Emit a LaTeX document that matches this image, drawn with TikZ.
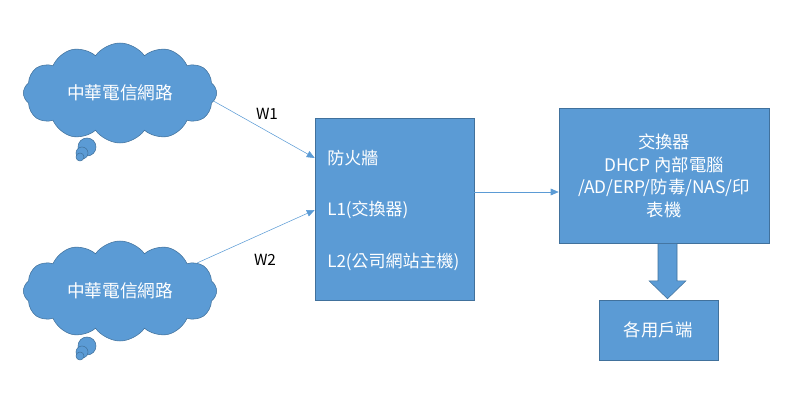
\documentclass[tikz,border=0pt]{standalone}
\usepackage{fontspec}
\setmainfont{Noto Sans CJK TC}
\usetikzlibrary{shapes,shapes.symbols,arrows.meta,calc}

\definecolor{officeblue}{HTML}{5B9BD5}
\definecolor{officeline}{HTML}{41719C}

\tikzset{
	netcloud/.style={shape=cloud,cloud puffs=12,cloud puff arc=110,aspect=2,
		draw=officeline,fill=officeblue,thin,text=white,
		minimum width=145pt,minimum height=75pt,inner sep=0pt,
		font=\fontsize{13.25}{15}\selectfont},
	bubble/.style={shape=circle,draw=officeline,fill=officeblue,thin,inner sep=0pt},
	unit/.style={shape=rectangle,draw=officeline,fill=officeblue,thin,text=white,
		inner sep=0pt,font=\fontsize{13}{17}\selectfont},
	tag/.style={font=\fontsize{12.75}{17}\selectfont,text=white,inner sep=0pt},
	wan/.style={font=\fontsize{11.5}{13}\selectfont,inner sep=0pt},
	link/.style={draw=officeblue,thin,-{Triangle[length=6pt,width=5pt]}},
}

\begin{document}
\begin{tikzpicture}[x=0.75pt,y=-0.75pt]
	\useasboundingbox (0,0) rectangle (811,410);
	% clouds
	\node[netcloud] (hinet1) at (120,93) {中華電信網路};
	\node[bubble,minimum size=13.5pt] (b1a) at (87,147) {};
	\node[bubble,minimum size=9pt] (b1b) at (82,153) {};
	\node[bubble,minimum size=6pt] (b1c) at (80,157) {};
	\node[netcloud] (hinet2) at (120,291) {中華電信網路};
	\node[bubble,minimum size=13.5pt] (b2a) at (87,346) {};
	\node[bubble,minimum size=9pt] (b2b) at (82,352) {};
	\node[bubble,minimum size=6pt] (b2c) at (80,356) {};
	% boxes
	\node[unit,minimum width=119.25pt,minimum height=136.5pt] (fw) at (394.5,209) {};
	\node[tag,anchor=west] (fwa) at (327,158) {防火牆};
	\node[tag,anchor=west] (fwb) at (327,210) {L1(交換器)};
	\node[tag,anchor=west] (fwc) at (327,262) {L2(公司網站主機)};
	\node[unit,minimum width=157.5pt,minimum height=101.25pt,align=center] (sw) at (664,176)
		{交換器\\DHCP 內部電腦\\/AD/ERP/防毒/NAS/印\\表機};
	\node[unit,minimum width=89.25pt,minimum height=45pt] (user) at (658.5,330) {各用戶端};
	% links
	\draw[link] (hinet1.-5) -- (fw.west |- fwa);
	\draw[link] (hinet2.20) -- (fw.west |- fwb);
	\node[wan] (w1) at (267,114) {W1};
	\node[wan] (w2) at (265,260) {W2};
	\draw[link] (fw.east |- 0,192) -- (sw.west |- 0,192);
	\draw[officeline,fill=officeblue,thin] ($(sw.south)+(-6,0)$) -- ++(0,37) -- ++(-9,0)
		-- ++(18.5,18) -- ++(18.5,-18) -- ++(-9,0) -- ++(0,-37);
\end{tikzpicture}
\end{document}
